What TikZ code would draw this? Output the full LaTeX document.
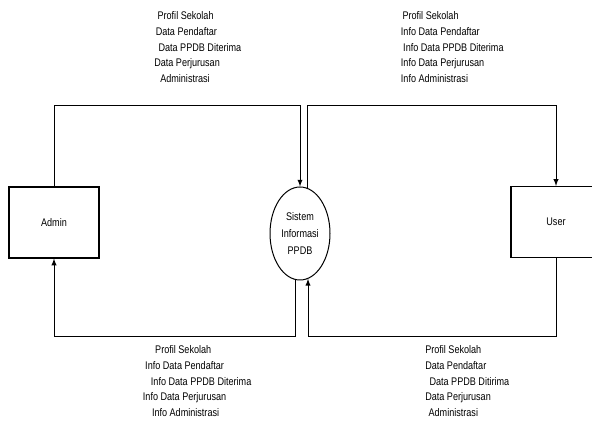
\documentclass[tikz,border=0pt]{standalone}
\usepackage{fontspec}
\setmainfont{Liberation Sans}[FakeStretch=0.82]
\usetikzlibrary{shapes.geometric}
\usetikzlibrary{arrows}

\tikzset{
  ent/.style={draw, line width=0.8pt, minimum width=67.5pt, minimum height=53.25pt, inner sep=0pt},
  proc/.style={draw, ellipse, line width=0.75pt, minimum width=45pt, minimum height=69.75pt, inner sep=0pt, align=center, font=\fontsize{8.3}{12.4}\selectfont},
  flow/.style={-latex, line width=0.75pt},
  lbl/.style={anchor=north west, inner sep=0pt, align=left}
}

\begin{document}
\begin{tikzpicture}[x=0.75pt,y=0.75pt,yscale=-1,xscale=1,
  every node/.append style={font=\fontsize{8.3}{11.8}\selectfont}]
\path[use as bounding box] (0,0) rectangle (592,423);

% entities and process
\node[ent] (admin) at (54,222.5) {Admin};
\node[ent] (user) at (556,222) {User};
\node[proc] (sys) at (300,233.5) {Sistem\\Informasi\\PPDB};

% levels of the flow lines
\coordinate (top) at (0,106);
\coordinate (bot) at (0,337);

% flows
\draw[flow] (admin.north) |- (sys.north |- top) -- (sys.north);
\draw[flow] (sys.81) |- (user.north |- top) -- (user.north);
\draw[flow] (sys.265) |- (admin.south |- bot) -- (admin.south);
\draw[flow] (user.south) |- (sys.280 |- bot) -- (sys.280);

% flow labels
\node[lbl] (lblAdminSys) at (154,11.5) {\hspace*{2.5pt}Profil Sekolah\\ \hspace*{1.2pt}Data Pendaftar\\ \hspace*{3.2pt}Data PPDB Diterima\\ Data Perjurusan\\ \hspace*{4.5pt}Administrasi};
\node[lbl] (lblSysUser) at (400.7,11.5) {\hspace*{1.2pt}Profil Sekolah\\ Info Data Pendaftar\\ \hspace*{1.7pt}Info Data PPDB Diterima\\ Info Data Perjurusan\\ Info Administrasi};
\node[lbl] (lblSysAdmin) at (142.7,345.5) {\hspace*{9.2pt}Profil Sekolah\\ \hspace*{1.7pt}Info Data Pendaftar\\ \hspace*{6pt}Info Data PPDB Diterima\\ Info Data Perjurusan\\ \hspace*{6.8pt}Info Administrasi};
\node[lbl] (lblUserSys) at (425,345.5) {Profil Sekolah\\ Data Pendaftar\\ \hspace*{3.2pt}Data PPDB Ditirima\\ Data Perjurusan\\ \hspace*{2.5pt}Administrasi};
\end{tikzpicture}
\end{document}
